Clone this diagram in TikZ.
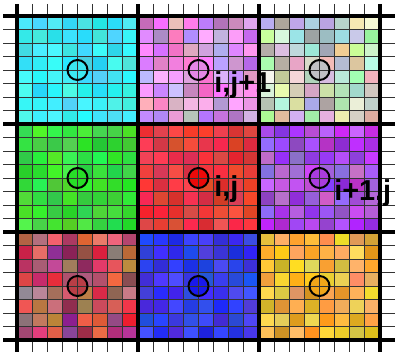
\documentclass[tikz,border=0pt]{standalone}
\usepackage{fontspec}
\setmainfont{Liberation Sans}
\usepackage{xcolor}
\usetikzlibrary{positioning}

\begin{document}
\begin{tikzpicture}[
  x=0.025cm, y=-0.025cm,
  thingrid/.style={draw=black!80, line width=0.6pt},
  thickgrid/.style={draw=black, line width=2.2pt},
  ctr/.style={circle, minimum size=0.5cm, inner sep=0pt},
  ring/.style={draw=black, line width=1.4pt},
  lbl/.style={anchor=base west, inner sep=0pt, font=\fontsize{20.5}{24}\selectfont\bfseries}
]
  \useasboundingbox (0,0) rectangle (400,353);
  \pgfmathsetseed{11}
  \foreach \bx/\by/\r/\g/\b/\v in {
      0/0/60/232/242/24, 1/0/220/150/232/48, 2/0/200/210/195/48,
      0/1/60/225/60/26,  1/1/235/60/62/26,   2/1/170/75/228/40,
      0/2/190/85/100/55, 1/2/55/60/238/28,   2/2/242/180/65/42}{
    \foreach \i in {0,...,7}{
      \foreach \j in {0,...,7}{
        \pgfmathtruncatemacro\cellr{max(0,min(255,\r+\v*rand))}
        \pgfmathtruncatemacro\cellg{max(0,min(255,\g+\v*rand))}
        \pgfmathtruncatemacro\cellb{max(0,min(255,\b+\v*rand))}
        \definecolor{cellcol}{RGB}{\cellr,\cellg,\cellb}
        \fill[cellcol] ({17+(\bx*8+\i)*15.125},{16+(\by*8+\j)*13.5}) rectangle +(15.125,13.5);
      }
    }
  }
  \definecolor{c00col}{RGB}{60,232,242}
  \definecolor{c10col}{RGB}{228,135,230}
  \definecolor{c20col}{RGB}{192,192,196}
  \definecolor{c01col}{RGB}{40,222,40}
  \definecolor{c11col}{RGB}{235,10,10}
  \definecolor{c21col}{RGB}{170,60,222}
  \definecolor{c02col}{RGB}{185,62,70}
  \definecolor{c12col}{RGB}{25,25,235}
  \definecolor{c22col}{RGB}{240,165,25}
  \foreach \bx in {0,1,2}{
    \foreach \by in {0,1,2}{
      \node[ctr, fill=c\bx\by col] (c\bx\by) at ({77.5+\bx*121},{70+\by*108}) {};
    }
  }
  \foreach \k in {0,...,24}{
    \draw[thingrid] ({17+\k*15.125},4) -- ({17+\k*15.125},352);
    \draw[thingrid] (3,{16+\k*13.5}) -- (395,{16+\k*13.5});
  }
  \foreach \k in {0,...,3}{
    \draw[thickgrid] ({17+\k*121},4) -- ({17+\k*121},352);
    \draw[thickgrid] (3,{16+\k*108}) -- (395,{16+\k*108});
  }
  \foreach \bx in {0,1,2}{
    \foreach \by in {0,1,2}{
      \draw[ring] (c\bx\by.center) circle (10);
    }
  }
  \node[lbl] (l10) at (214,93) {i,j+1};
  \node[lbl] (l11) at (214,197) {i,j};
  \node[lbl] (l21) at (334,201) {i+1,j};
\end{tikzpicture}
\end{document}
